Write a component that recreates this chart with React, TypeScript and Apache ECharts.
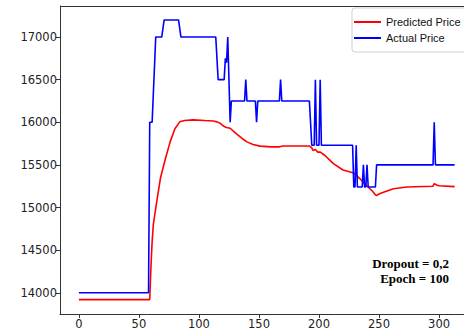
import React, { useEffect, useRef } from "react";
import * as echarts from "echarts";

const xTicks = [0, 50, 100, 150, 200, 250, 300];
const yTicks = [14000, 14500, 15000, 15500, 16000, 16500, 17000];

const predictedPrice: [number, number][] = [
  [0, 13920], [59, 13920], [60, 14300], [61, 14600], [62, 14800], [63, 14900],
  [65, 15085], [68, 15350], [72, 15570], [76, 15770], [80, 15925], [84, 16005],
  [88, 16020], [95, 16028], [105, 16020], [112, 16015], [115, 16005], [118, 15985],
  [121, 15950], [123, 15938], [126, 15930], [131, 15867], [136, 15810], [140, 15770],
  [145, 15740], [151, 15720], [160, 15712], [167, 15712], [170, 15722], [192, 15722],
  [194, 15700], [195, 15670], [197, 15680], [199, 15650], [201, 15650], [205, 15610],
  [212, 15515], [220, 15440], [229, 15405], [234, 15340], [240, 15250], [244, 15200],
  [247, 15150], [248, 15140], [250, 15160], [252, 15170], [262, 15220], [273, 15240],
  [295, 15250], [296, 15280], [298, 15265], [300, 15255], [313, 15245],
];

const actualPrice: [number, number][] = [
  [0, 14000], [58, 14000], [59, 16000], [61, 16000], [64, 17000], [69, 17000],
  [71, 17200], [83, 17200], [85, 17000], [114, 17000], [116, 16500], [121, 16500],
  [122, 16750], [123, 16700], [124, 17000], [126, 16000], [127, 16250], [138, 16250],
  [139, 16500], [140, 16250], [147, 16250], [148, 16000], [149, 16250], [167, 16250],
  [168, 16500], [169, 16250], [192, 16250], [194, 15730], [196, 15730], [197, 16500],
  [198, 15730], [200, 15730], [201, 16500], [202, 15730], [228, 15730], [229, 15240],
  [230, 15240], [231, 15730], [232, 15240], [236, 15240], [237, 15500], [238, 15240],
  [239, 15240], [240, 15500], [241, 15240], [247, 15240], [248, 15500], [295, 15500],
  [296, 16000], [297, 15500], [313, 15500],
];

const annotationLines = ["Dropout = 0,2", "Epoch = 100"];

export default function App() {
  const ref = useRef<HTMLDivElement>(null);
  useEffect(() => {
    if (!ref.current) return;
    const chart = echarts.init(ref.current, null, { renderer: "svg" });
    const axisColor = "#333";
    const tickFont = { fontFamily: "DejaVu Sans", fontSize: 11.5, color: "#222" };
    chart.setOption({
      animation: false,
      backgroundColor: "#fff",
      grid: { left: 60, top: 6, right: 0, bottom: 19 },
      xAxis: {
        type: "value",
        min: -15.75,
        max: 320.8,
        splitLine: { show: false },
        axisLine: { show: true, onZero: false, lineStyle: { color: axisColor, width: 1 } },
        axisTick: { show: true, length: 4, customValues: xTicks, lineStyle: { color: axisColor } },
        axisLabel: {
          ...tickFont,
          margin: 4,
          customValues: xTicks,
          formatter: (v: number) => String(v),
        },
      },
      yAxis: {
        type: "value",
        min: 13751,
        max: 17364,
        splitLine: { show: false },
        axisLine: { show: true, onZero: false, lineStyle: { color: axisColor, width: 1 } },
        axisTick: { show: true, length: 4, customValues: yTicks, lineStyle: { color: axisColor } },
        axisLabel: {
          ...tickFont,
          margin: 3,
          customValues: yTicks,
          formatter: (v: number) => String(v),
        },
      },
      legend: {
        orient: "vertical",
        left: 352,
        top: 8,
        padding: [8, 8, 8, 2],
        itemGap: 4,
        itemWidth: 27,
        itemHeight: 2,
        itemTextGap: 3,
        backgroundColor: "#fff",
        borderColor: "#d0d0d0",
        borderWidth: 1,
        borderRadius: 3,
        textStyle: { fontFamily: "Liberation Sans", fontSize: 11, color: "#111", lineHeight: 12 },
        data: [
          { name: "Predicted Price", icon: "rect" },
          { name: "Actual Price", icon: "rect" },
        ],
      },
      graphic: [
        {
          type: "line",
          shape: { x1: 60, y1: 6.5, x2: 464, y2: 6.5 },
          style: { stroke: axisColor, lineWidth: 1 },
          silent: true,
        },
        ...annotationLines.map((t, i) => ({
          type: "text",
          x: 449,
          y: 263 + i * 15,
          style: {
            text: t,
            fontFamily: "Liberation Serif",
            fontWeight: "bold",
            fontSize: 13,
            align: "right",
            verticalAlign: "middle",
            fill: "#000",
          },
        })),
      ],
      series: [
        {
          name: "Predicted Price",
          type: "line",
          data: predictedPrice,
          showSymbol: false,
          color: "#ff0000",
          lineStyle: { color: "#ff0000", width: 1.6 },
          z: 2,
        },
        {
          name: "Actual Price",
          type: "line",
          data: actualPrice,
          showSymbol: false,
          color: "#0000ff",
          lineStyle: { color: "#0000ff", width: 1.6 },
          z: 3,
        },
      ],
    });
    return () => chart.dispose();
  }, []);
  return <div ref={ref} style={{ width: 464, height: 333, position: "absolute", left: 0, top: 0 }} />;
}
